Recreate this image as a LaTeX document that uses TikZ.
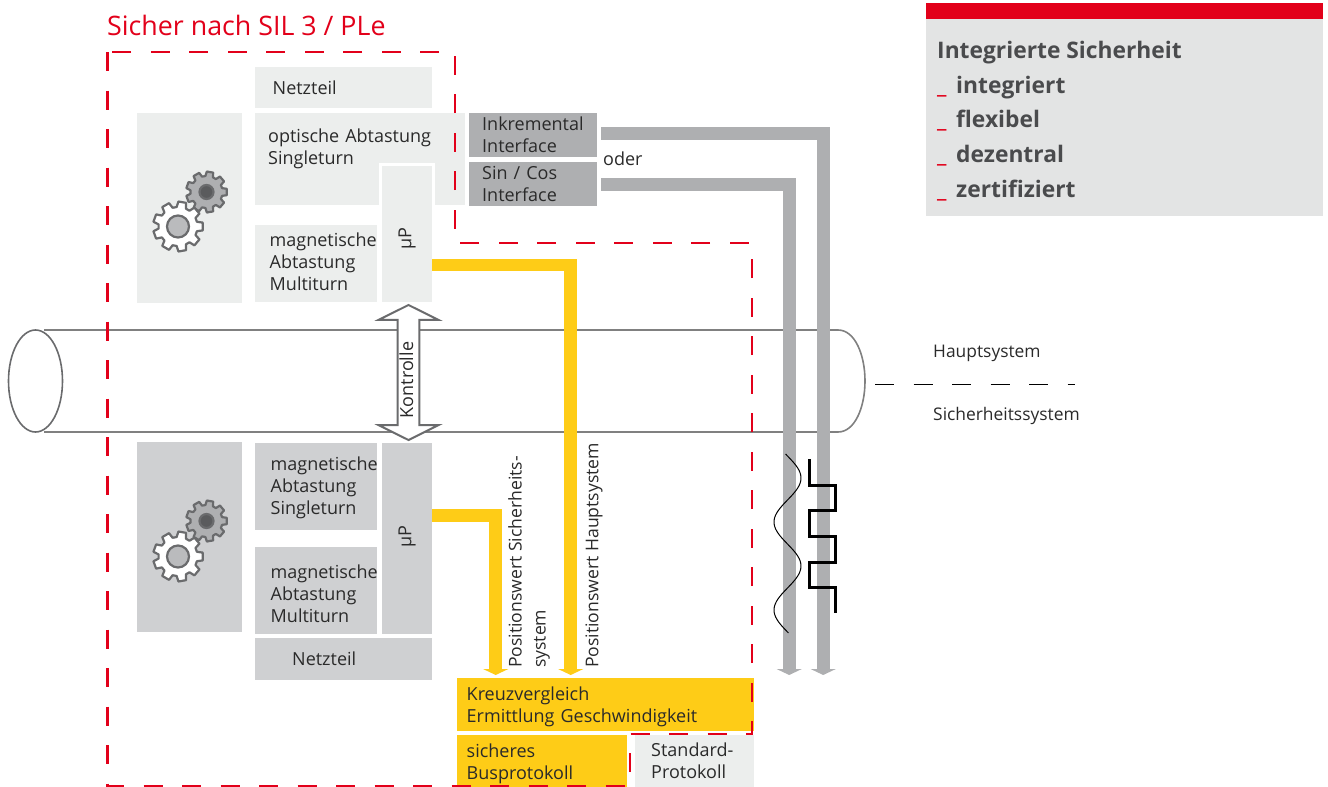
\documentclass[tikz,border=0pt]{standalone}
\usepackage{fontspec}
\setmainfont{Open Sans}
\usepackage{color}
\usetikzlibrary{arrows.meta,shapes.arrows,shapes.geometric,calc}
\definecolor{silred}{HTML}{E2001A}
\definecolor{silyellow}{HTML}{FECC17}
\definecolor{lightbg}{HTML}{ECEEED}
\definecolor{darkbg}{HTML}{CFD0D2}
\definecolor{ifacebg}{HTML}{AEAFB1}
\definecolor{infobg}{HTML}{E3E4E4}
\definecolor{tubeline}{HTML}{808080}
\definecolor{gearline}{HTML}{6A6B6D}
\definecolor{infotext}{HTML}{4A4B4D}
\definecolor{bodytext}{HTML}{2A2A2A}
\tikzset{
  box/.style={rectangle,anchor=north west,inner ysep=0pt,align=left,text=bodytext,
    font=\fontsize{18}{22}\selectfont},
  lightbox/.style={box,fill=lightbg},
  darkbox/.style={box,fill=darkbg},
  ifacebox/.style={box,fill=ifacebg},
  yellowbox/.style={box,fill=silyellow},
  lbl/.style={anchor=west,inner sep=0pt,text=bodytext,align=left,
    font=\fontsize{18}{22}\selectfont},
  rotlbl/.style={lbl,rotate=90,anchor=west,font=\fontsize{17.6}{24}\selectfont},
  signal/.style={line width=12.8pt,-{Triangle[length=6pt,width=25pt]},shorten >=3pt},
  yellowline/.style={signal,silyellow},
  greyline/.style={signal,ifacebg},
  sil/.style={silred,line width=2.8pt,dash pattern=on 19pt off 19.5pt},
  tube/.style={tubeline,line width=1.6pt},
  gearbody/.style={line width=2.2pt,draw=gearline,line join=round}
}
% one gear: centre, outer radius, inner radius, fill, hub radius, hub fill
\newcommand{\gearicon}[6]{
  \draw[gearbody,fill=#4] ($#1+(-9:#2)$)
    \foreach \a in {0,40,...,320}{
      -- ($#1+(\a-9:#2)$) -- ($#1+(\a+9:#2)$) -- ($#1+(\a+14:#3)$) -- ($#1+(\a+26:#3)$)
    } -- cycle;
  \draw[gearbody,fill=#6] #1 circle [radius=#5];
}
\begin{document}
\begin{tikzpicture}[x=1pt,y=-1pt]
\useasboundingbox (0,0) rectangle (1328,787);
% tube
\draw[tube] (44,330)--(838,330) .. controls (855,330) and (865,355) .. (865,381) .. controls (865,407) and (855,432) .. (838,432)--(44,432);
\node[draw=gearline,line width=1.6pt,fill=white,ellipse,inner sep=0pt,minimum width=54pt,minimum height=102pt] (tubeend) at (35.5,381) {};
\coordinate (axisa) at (875,384.5);
\coordinate (axisb) at (1075,384.5);
\draw[line width=1pt,dash pattern=on 19pt off 19.5pt] (axisa)--(axisb);
\node[lbl] (hauptlbl) at (933,353.5) {\fontsize{17.4}{20}\selectfont Hauptsystem};
\node[lbl] (sichlbl) at (933,416) {\fontsize{17.4}{20}\selectfont Sicherheitssystem};
% upper encoder
\node[lightbox,minimum width=105pt,minimum height=190pt] (gearsa) at (137,113) {};
\node[lightbox,inner xsep=17.5pt,text width=142pt,minimum height=41pt] (netzteila) at (255,67) {Netzteil};
\node[lightbox,inner xsep=13pt,text width=184pt,minimum height=92pt] (optisch) at (255,113) {optische Abtastung\\Singleturn\\~\rule[-4pt]{0pt}{0pt}};
\node[lightbox,inner xsep=14.5pt,text width=93pt,minimum height=77pt] (magneta) at (255,225) {magnetische\\Abtastung\\Multiturn\rule[-4pt]{0pt}{0pt}};
\node[lightbox,draw=white,line width=3pt,minimum width=53pt,minimum height=139pt,inner xsep=0pt] (mua) at (379,163) {\rotatebox{90}{µP\hspace*{10pt}}};
\node[ifacebox,inner xsep=13pt,text width=102pt,minimum height=44pt] (inkrement) at (469,113) {Inkremental\\Interface};
\node[ifacebox,inner xsep=13pt,text width=102pt,minimum height=44pt] (sincos) at (469,162) {Sin / Cos\\Interface};
\node[lbl] (oder) at (603,159) {oder};
% lower encoder
\node[darkbox,minimum width=105pt,minimum height=190pt] (gearsb) at (137,442) {};
\node[darkbox,inner xsep=15.5pt,text width=91pt,minimum height=87pt] (magnetb) at (255,443) {\rule{0pt}{15.7pt}magnetische\\Abtastung\\Singleturn};
\node[darkbox,inner xsep=15.5pt,text width=91pt,minimum height=87pt] (magnetc) at (255,547) {\rule{0pt}{19.7pt}magnetische\\Abtastung\\Multiturn};
\node[darkbox,minimum width=50pt,minimum height=191pt,inner xsep=0pt] (mub) at (382,443) {\rotatebox{90}{\hspace*{4pt}µP}};
\node[darkbox,inner xsep=37pt,text width=103pt,minimum height=42pt] (netzteilb) at (255,638) {Netzteil};
% bottom blocks
\node[yellowbox,inner xsep=9.5pt,text width=278pt,minimum height=53pt] (kreuz) at (457,678) {\rule{0pt}{17.7pt}Kreuzvergleich\\Ermittlung Geschwindigkeit};
\node[yellowbox,inner xsep=9.5pt,text width=151pt,minimum height=52pt] (bus) at (457,735) {\rule{0pt}{19.7pt}sicheres\\Busprotokoll};
\node[lightbox,inner xsep=16pt,text width=87pt,minimum height=52pt] (standard) at (635,735) {Standard-\\Protokoll};
% gears
\gearicon{(206.5,192)}{20.5}{16}{ifacebg}{7}{gearline!85!black}
\gearicon{(178,226.5)}{25}{19.5}{white}{11}{ifacebg!85!white}
\gearicon{(206.5,521)}{20.5}{16}{ifacebg}{7}{gearline!85!black}
\gearicon{(178,556.5)}{25}{19.5}{white}{11}{ifacebg!85!white}
% signal lines
\draw[greyline] ([xshift=4pt,yshift=2pt]inkrement.east) -| ([xshift=217.5pt]kreuz.north);
\draw[greyline] ([xshift=4pt]sincos.east) -| ([xshift=183.5pt]kreuz.north);
\draw[yellowline] ([xshift=-3pt,yshift=-31pt]mua.east) -| ([xshift=-35pt]kreuz.north);
\draw[yellowline] ([yshift=23.5pt]mub.east) -| ([xshift=-110pt]kreuz.north);
% control arrow
\node[draw=gearline,line width=2pt,fill=white,double arrow,rotate=90,inner xsep=0pt,inner ysep=0pt,
  text height=12pt,text depth=3pt,minimum height=135pt,minimum width=60pt,double arrow head extend=15pt,double arrow tip angle=127,
  font=\fontsize{18}{22}\selectfont,text=bodytext] (kontrolle) at (408.5,372.5) {Kontrolle\hspace*{15pt}};
% rotated labels
\node[rotlbl] (possich) at (529,668) {Positionswert Sicherheits-\\system};
\node[rotlbl] (poshaupt) at (594,668) {Positionswert Hauptsystem};
% sine and square signal
\draw[line width=1pt,smooth,domain=454:633,samples=80] plot ({787.5+13.5*sin(4.0909*(\x-456))},\x);
\coordinate (rechteck) at (809.5,459);
\draw[line width=3pt,line join=miter] (rechteck)--++(0,26)--++(26,0)--++(0,25)--++(-26,0)--++(0,26)--++(26,0)--++(0,26)--++(-26,0)--++(0,25)--++(26,0)--++(0,26);
% safety boundary
\draw[sil] (107.5,52) -- (107.5,786) -- (630,786) -- (630,734) -- (752,734) -- (752,243) -- (455,243) -- (455,52) -- cycle;
\node[anchor=west,inner sep=0pt,text=silred,font=\fontsize{26.8}{32}\selectfont] (titel) at (107,25) {Sicher nach SIL 3 / PLe};
% info panel
\node[rectangle,anchor=north west,fill=infobg,minimum width=397pt,minimum height=213pt,inner sep=0pt] (infopanel) at (926,3) {};
\node[rectangle,anchor=north west,fill=silred,minimum width=397pt,minimum height=16pt,inner sep=0pt] (infoband) at (926,3) {};
\node[anchor=north west,inner sep=0pt,align=left,text=infotext,font=\fontsize{22.8}{34.7}\selectfont\bfseries] (infotxt) at (937,41) {Integrierte Sicherheit\\
\textcolor{silred}{\makebox[19pt][l]{\_}}integriert\\
\textcolor{silred}{\makebox[19pt][l]{\_}}flexibel\\
\textcolor{silred}{\makebox[19pt][l]{\_}}dezentral\\
\textcolor{silred}{\makebox[19pt][l]{\_}}zertifiziert};
\end{tikzpicture}
\end{document}
